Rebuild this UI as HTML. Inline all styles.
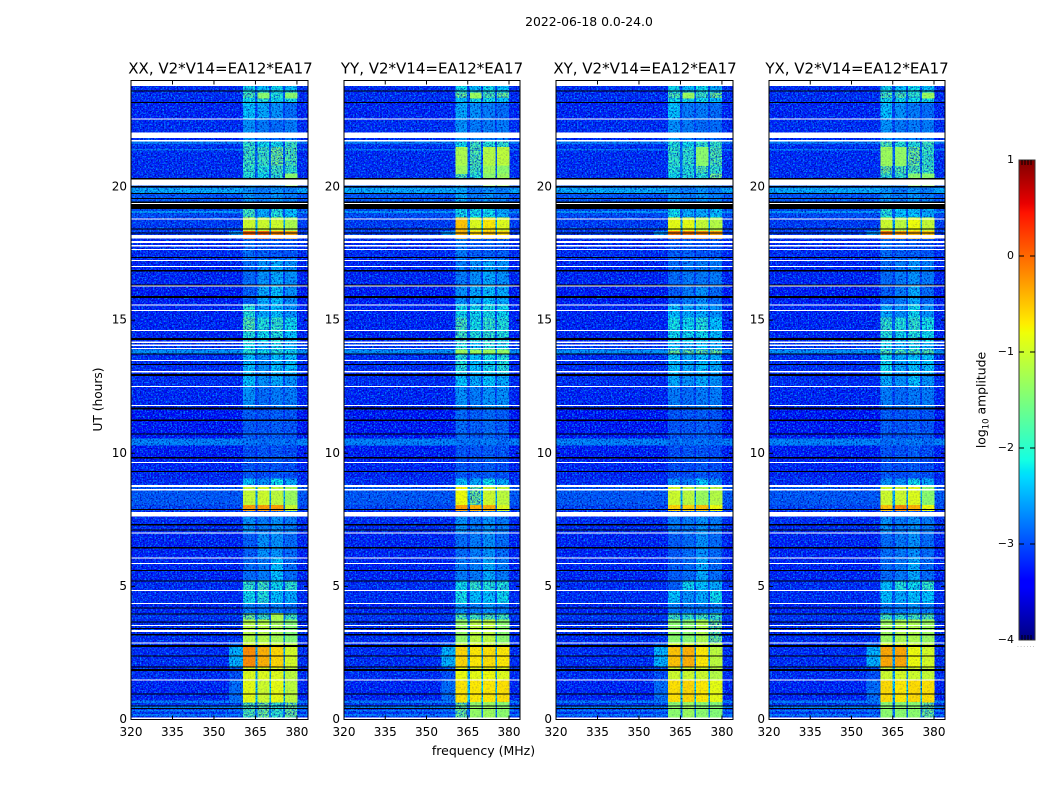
<!DOCTYPE html>
<html lang="en">
<head>
<meta charset="utf-8">
<title>2022-06-18 0.0-24.0</title>
<style>
html,body{margin:0;padding:0;background:#fff;width:1050px;height:800px;overflow:hidden}
svg{display:block}
text{font-family:"DejaVu Sans","Liberation Sans",sans-serif;fill:#000}
</style>
</head>
<body>
<svg id="figure" xmlns="http://www.w3.org/2000/svg" width="1050" height="800" viewBox="0 0 1050 800">
  <defs>
    <filter id="speckleDark" x="0" y="0" width="100%" height="100%" color-interpolation-filters="sRGB">
      <feTurbulence type="fractalNoise" baseFrequency="0.62" numOctaves="2" seed="4"/>
      <feColorMatrix type="matrix" values="0 0 0 0 0  0 0 0 0 0  0 0 0 0 0.6  2.8 0 0 0 -1.3"/>
    </filter>
    <filter id="speckleLight" x="0" y="0" width="100%" height="100%" color-interpolation-filters="sRGB">
      <feTurbulence type="fractalNoise" baseFrequency="0.62" numOctaves="2" seed="11"/>
      <feColorMatrix type="matrix" values="0 0 0 0 0  0 0 0 0 0.6  0 0 0 0 1  0 3 0 0 -1.35"/>
    </filter>
    <linearGradient id="jetGradient" x1="0" y1="1" x2="0" y2="0"></linearGradient>
  </defs>
  <text x="589" y="26" font-size="12.4" text-anchor="middle">2022-06-18 0.0-24.0</text>
  <text x="220.500" y="73.500" font-size="15" text-anchor="middle">XX, V2*V14=EA12*EA17</text>
  <text x="432" y="73.500" font-size="15" text-anchor="middle">YY, V2*V14=EA12*EA17</text>
  <text x="645" y="73.500" font-size="15" text-anchor="middle">XY, V2*V14=EA12*EA17</text>
  <text x="857" y="73.500" font-size="15" text-anchor="middle">YX, V2*V14=EA12*EA17</text>
  <text x="483.500" y="755" font-size="12.5" text-anchor="middle">frequency (MHz)</text>
  <text transform="translate(102,399.500) rotate(-90)" font-size="12.2" text-anchor="middle">UT (hours)</text>
  <text transform="translate(985.500,400) rotate(-90)" font-size="12.4" text-anchor="middle">log<tspan font-size="8.500" dy="3">10</tspan><tspan dy="-3"> amplitude</tspan></text>
  <g id="panels"></g>
  <g id="colorbar"></g>
</svg>
<script>
// Axis ranges and tick labels
const freqRange = [320, 384];
const utRange = [0, 24];
const freqTicks = [320, 335, 350, 365, 380];
const utTicks = [0, 5, 10, 15, 20];
const colorRange = [-4, 1];
const colorTicks = [1, 0, -1, -2, -3, -4];

// Frequency segment edges (MHz) and which level each segment uses
const freqEdges = [320, 355.5, 360.5, 364.8, 365.8, 369.9, 370.6, 374.9, 375.7, 380, 384];
const segmentKinds = ['bg', 'sh', 'c0', 'gap', 'c1', 'gap', 'c2', 'gap', 'c3', 'bg'];

// UT band edges (hours, top to bottom)
const utEdges = [23.8,23.55,23.35,23.15,22.55,21.75,21.5,20.8,20.5,20.06,19.2,18.85,18.35,18.07,17.3,16.3,15.6,15.1,14.55,14.2,13.9,13.75,13,12.5,11.7,10.55,10.3,9.7,9.05,8.75,8.05,7.85,7.6,7,6.05,5.2,4.85,4.35,4,3.75,2.9,2.75,2,1.5,0.65,0];

// log10 amplitude per UT band: background, shoulder (355-360 MHz), gaps between sub-bands
const bgLevels = [-3.25,-3.25,-3.25,-3.3,-3.25,-3.2,-3.25,-3.25,-3.25,-3,-3.05,-3.15,-3.15,-3.25,-3.3,-3.35,-3.3,-3.3,-3.3,-3.2,-2.6,-3.25,-3.25,-3.3,-3.4,-2.7,-3.35,-3.3,-3.25,-2.98,-3.1,-3.25,-3.25,-3.3,-3.3,-3.25,-3.25,-3.3,-3.2,-3.25,-3.25,-3.25,-3.25,-3.3,-3.2];
const shoulderLevels = [-3.25,-3.25,-3.25,-3.3,-3.25,-3.2,-3.25,-3.25,-3.25,-3,-3.05,-3.15,-2.6,-3.25,-3.3,-3.35,-3.3,-3.3,-3.3,-3.2,-2.6,-3.25,-3.25,-3.3,-3.4,-2.7,-3.35,-3.3,-3.25,-2.98,-3.1,-3.25,-3.25,-3.3,-3.3,-3.25,-3.25,-3.3,-3.2,-3.2,-2.85,-2.4,-3.05,-2.85,-3.1];
const gapLevels = [-3.05,-2.9,-3,-3.1,-3.1,-3.05,-2.9,-2.9,-3,-2.85,-3,-2.45,-2.7,-3.15,-3.15,-3.15,-3.05,-2.95,-3,-3.05,-2.6,-3.05,-3.05,-3.1,-3.15,-2.7,-3.2,-3.2,-3.05,-2.45,-2.8,-3.1,-3.1,-3.1,-3.1,-3,-3.05,-3.15,-2.9,-2.6,-2.5,-2.5,-2.5,-2.3,-2.8];

// Narrow background streaks: [upper hour, lower hour, log10 amplitude]
const streakHours = [[21.7,21.62,-2.75],[21.42,21.38,-2.75],[19.97,19.75,-2.45],[19.1,19.02,-2.55],[0.72,0.62,-2.75],[0.48,0.44,-2.7],[0.36,0.3,-2.7],[0.2,0.14,-2.75]];

// log10 amplitude of the four RFI sub-bands per UT band, one table per polarisation
const levelsXX = [[-2.15,-2.3,-2.15,-2.3],[-1.7,-1.4,-2,-1.4],[-2.15,-2,-2.15,-2.15],[-2.3,-2.45,-2.6,-2.85],[-2.6,-2.75,-2.85,-2.75],[-1.9,-2.15,-2.15,-1.8],[-1.8,-1.8,-1.5,-1.7],[-1.9,-2,-1.8,-1.9],[-2,-2.15,-1.9,-1.4],[-2.6,-2.75,-2.6,-2.75],[-1.8,-2.45,-2,-2.3],[-1,-1,-1,-1.2],[0,0,-0.2,-0.3],[-2.85,-2.95,-3,-3],[-2.85,-2.6,-2.45,-2.6],[-2.95,-2.45,-2.3,-2.6],[-2,-2.45,-2.3,-2.6],[-1.7,-2,-1.9,-2.15],[-2,-2.15,-2,-2.3],[-2.15,-2.45,-2.15,-2.45],[-2,-2.15,-2,-2.15],[-2.3,-2.6,-2.3,-2.3],[-2.3,-2.6,-2.45,-2.6],[-2.6,-2.85,-2.75,-2.75],[-2.95,-3,-2.95,-3],[-2.8,-2.85,-2.8,-2.85],[-3.05,-3,-3,-3.05],[-3,-3.05,-3,-3.05],[-2.3,-2.6,-2.15,-2.45],[-1.05,-1,-1.1,-1.3],[-0.3,-0.3,-0.3,-1],[-2.95,-2.95,-2.95,-2.95],[-2.6,-2.75,-2.6,-2.75],[-2.95,-2.6,-2.6,-2.85],[-2.85,-2.75,-2.3,-2.85],[-1.9,-1.8,-2.15,-1.9],[-2.15,-2,-2.3,-2.45],[-2.75,-2.75,-2.75,-2.85],[-1.5,-1.8,-1.2,-1.8],[-1.15,-1.15,-1.25,-1.45],[-0.9,-0.9,-1,-1.1],[-0.2,-0.4,-0.6,-0.95],[-0.9,-0.9,-0.9,-1.1],[-0.85,-1,-0.85,-1.1],[-1.7,-1.5,-1.9,-1.5]];
const levelsYY = [[-2.15,-2.3,-2.15,-2.3],[-1.5,-1.3,-1.7,-1.5],[-2.3,-2.15,-2.15,-2.3],[-2.45,-2.6,-2.75,-2.85],[-2.6,-2.75,-2.75,-2.75],[-2.15,-1.8,-2,-1.9],[-1.2,-1.7,-1.15,-1.1],[-1.3,-1.8,-1.3,-1.4],[-1.7,-2,-1.4,-1.3],[-2.45,-2.75,-2.6,-2.75],[-2.15,-2.15,-2.15,-2.45],[-0.5,-0.9,-0.7,-0.9],[-0.4,-0.6,-0.5,-0.6],[-2.75,-2.95,-2.95,-2.95],[-2.75,-2.6,-2.45,-2.6],[-2.6,-2.45,-2.3,-2.45],[-2.15,-2.15,-2.1,-2.15],[-1.75,-2.1,-1.9,-2],[-1.8,-2,-1.9,-2],[-2,-2.3,-2,-2.15],[-1.3,-1.3,-1.3,-1.35],[-2,-2.3,-2.15,-2],[-2.3,-2.45,-2.3,-2.45],[-2.6,-2.75,-2.6,-2.6],[-2.85,-2.95,-2.85,-2.95],[-2.8,-2.8,-2.75,-2.85],[-3,-3,-2.95,-3],[-3,-3,-2.95,-3.05],[-2.3,-2.45,-2.15,-2.45],[-0.8,-1.5,-1,-1.1],[-0.3,-0.4,-0.4,-0.9],[-2.85,-2.85,-2.85,-2.85],[-2.6,-2.75,-2.6,-2.75],[-2.85,-2.75,-2.6,-2.85],[-2.75,-2.75,-2.45,-2.75],[-2.15,-1.9,-2,-2],[-2.1,-2.3,-2.3,-2.15],[-2.6,-2.75,-2.6,-2.75],[-1.7,-1.8,-1.7,-1.8],[-1.35,-1.1,-1.1,-1.4],[-1,-0.9,-1,-1.1],[-0.6,-0.7,-0.65,-0.7],[-0.8,-0.85,-0.8,-0.9],[-0.68,-0.7,-0.7,-0.65],[-1.5,-1.35,-1.3,-1.4]];
const levelsXY = [[-2.15,-2.3,-2.15,-2.45],[-1.7,-1.3,-1.8,-1.5],[-2.15,-2.15,-2.15,-2.3],[-2.3,-2.75,-2.75,-2.85],[-2.6,-2.75,-2.85,-2.85],[-2,-2.15,-1.9,-1.9],[-1.9,-1.9,-1.4,-1.7],[-2,-2,-1.7,-1.9],[-2.15,-2,-2,-1.5],[-2.6,-2.75,-2.6,-2.75],[-2.15,-2.45,-2.45,-2.3],[-0.85,-0.85,-1.05,-1.15],[-0.1,-0.1,-0.2,-0.3],[-2.95,-2.95,-3,-3],[-2.85,-2.75,-2.75,-2.75],[-2.95,-2.75,-2.6,-2.85],[-2.3,-2.45,-2.45,-2.6],[-2.1,-2.15,-2,-2.3],[-2.15,-2.15,-2.15,-2.3],[-2.3,-2.45,-2.3,-2.45],[-1.55,-1.55,-1.55,-1.55],[-2.3,-2.45,-2.3,-2.45],[-2.45,-2.6,-2.45,-2.6],[-2.75,-2.85,-2.75,-2.75],[-3,-3,-2.95,-3],[-2.85,-2.85,-2.8,-2.85],[-3.05,-3,-3,-3.05],[-3.05,-3.05,-3,-3.05],[-2.6,-2.75,-2.3,-2.6],[-1,-1.1,-1.3,-1.15],[-0.6,-0.6,-0.5,-0.8],[-2.95,-2.95,-2.95,-2.95],[-2.75,-2.75,-2.6,-2.75],[-2.95,-2.85,-2.6,-2.85],[-2.95,-2.85,-2.45,-2.85],[-2.95,-2.15,-2.3,-2.45],[-2.3,-2.6,-2.45,-2.15],[-2.75,-2.75,-2.75,-2.75],[-1.8,-1.9,-1.8,-1.85],[-1.4,-1.4,-1.2,-1.5],[-0.95,-0.95,-1,-1.2],[-0.5,-0.4,-0.7,-1.1],[-1,-1,-1,-1.15],[-0.65,-0.6,-0.7,-0.85],[-1.4,-1.3,-1.4,-1.45]];
const levelsYX = [[-2.15,-2.3,-2.15,-2.3],[-1.7,-1.7,-1.9,-1.3],[-2.15,-2.15,-2.15,-2.15],[-2.3,-2.6,-2.75,-2.85],[-2.6,-2.75,-2.75,-2.75],[-1.7,-2,-2,-1.8],[-1.3,-1.35,-1.5,-1.85],[-1.5,-1.7,-1.7,-1.8],[-1.9,-1.9,-1.4,-1.4],[-2.6,-2.75,-2.6,-2.75],[-2,-2.3,-2.3,-2.45],[-1,-1.1,-0.8,-1.05],[-0.1,-0.3,-0.4,-0.5],[-2.85,-2.95,-2.95,-3],[-2.85,-2.75,-2.6,-2.75],[-2.95,-2.75,-2.45,-2.85],[-2.45,-2.6,-2.15,-2.6],[-1.9,-2,-1.9,-2.1],[-2,-2.15,-2,-2.15],[-2.15,-2.45,-2.15,-2.45],[-1.7,-1.7,-1.7,-1.7],[-2.15,-2.45,-2.3,-2.3],[-2.45,-2.6,-2.3,-2.6],[-2.75,-2.85,-2.75,-2.75],[-2.95,-3,-2.95,-3],[-2.85,-2.85,-2.75,-2.85],[-3,-3,-2.95,-3.05],[-3,-3.05,-3,-3.05],[-2.6,-2.6,-2.15,-2.45],[-1,-1,-0.9,-1.4],[-0.5,-0.2,-0.4,-0.8],[-2.95,-2.95,-2.95,-2.95],[-2.6,-2.75,-2.6,-2.75],[-2.85,-2.75,-2.6,-2.85],[-2.85,-2.75,-2.45,-2.85],[-2.3,-2,-2.15,-1.9],[-2.3,-2.45,-2.3,-2.3],[-2.75,-2.75,-2.6,-2.75],[-1.8,-1.9,-1.8,-1.7],[-1.3,-1.2,-1.2,-1.3],[-0.9,-0.9,-1,-1.1],[-0.35,-0.35,-0.8,-0.95],[-1,-0.95,-1,-1.05],[-0.62,-0.7,-0.62,-0.65],[-1.4,-1.4,-1.4,-1.5]];

// Flagged time ranges [upper, lower] hours: no data (white) and zero amplitude (black)
const blankRanges = [[24,23.8],[22.57,22.53],[22.04,21.84],[21.77,21.71],[20.29,20.06],[19.4,19.36],[18.82,18.79],[18.2,18.07],[17.97,17.9],[17.82,17.77],[17.68,17.63],[17.26,17.22],[17.03,17],[16.31,16.27],[15.59,15.56],[15.38,15.34],[14.63,14.59],[14.19,14.15],[14.08,14.03],[13.96,13.93],[13.5,13.46],[13.09,13.04],[12.53,12.49],[11.81,11.77],[9.68,9.65],[8.81,8.74],[8.66,8.61],[7.8,7.62],[7.02,6.98],[6.09,6.05],[5.88,5.84],[4.86,4.83],[4.38,4.34],[3.55,3.51],[3.36,3.28],[2.9,2.86],[1.51,1.47],[0.08,0.02]];
const zeroRanges = [[23.63,23.59],[23.19,23.15],[20.33,20.29],[20.04,19.98],[19.77,19.74],[19.59,19.55],[19.46,19.4],[19.36,19.18],[18.45,18.41],[18.3,18.26],[17.37,17.33],[16.88,16.83],[16.33,16.31],[15.91,15.84],[14.32,14.25],[13.75,13.72],[13.35,13.31],[12.98,12.91],[11.71,11.65],[11.26,11.22],[10.75,10.71],[9.85,9.81],[9.34,9.3],[7.91,7.87],[7.34,7.29],[7.14,7.11],[6.47,6.43],[5.61,5.58],[5.23,5.19],[4.21,4.18],[3.99,3.96],[3.69,3.65],[3.44,3.4],[3.21,3.16],[2.79,2.73],[2.4,2.36],[2,1.96],[1.89,1.83],[0.98,0.96],[0.52,0.5],[0.43,0.39]];

const panelIds = ['xx', 'yy', 'xy', 'yx'];
const panelLevels = [levelsXX, levelsYY, levelsXY, levelsYX];

const SVG_NS = 'http://www.w3.org/2000/svg';
const panelBoxes = [[131, 308], [344, 520], [556, 733], [769, 945]];
const plotTop = 80.5, plotBottom = 719.5;
const smoothAbove = -1.45;

function yScale(h) {
  return plotBottom - (h - utRange[0]) / (utRange[1] - utRange[0]) * (plotBottom - plotTop);
}
function makeX(left, right) {
  return function (f) {
    return left + (f - freqRange[0]) / (freqRange[1] - freqRange[0]) * (right - left);
  };
}
function jet(t) {
  t = Math.max(0, Math.min(1, t));
  const ramp = function (pts) {
    for (let i = 1; i < pts.length; i++) {
      if (t <= pts[i][0]) {
        const a = pts[i - 1], b = pts[i];
        return a[1] + (b[1] - a[1]) * (t - a[0]) / (b[0] - a[0]);
      }
    }
    return pts[pts.length - 1][1];
  };
  const r = ramp([[0, 0], [0.35, 0], [0.66, 1], [0.89, 1], [1, 0.5]]);
  const g = ramp([[0, 0], [0.125, 0], [0.375, 1], [0.64, 1], [0.91, 0], [1, 0]]);
  const b = ramp([[0, 0.5], [0.11, 1], [0.34, 1], [0.65, 0], [1, 0]]);
  return 'rgb(' + Math.round(r * 255) + ',' + Math.round(g * 255) + ',' + Math.round(b * 255) + ')';
}
function colorOf(v) {
  return jet((v - colorRange[0]) / (colorRange[1] - colorRange[0]));
}
function node(parent, tag, attrs) {
  const el = document.createElementNS(SVG_NS, tag);
  for (const k in attrs) el.setAttribute(k, attrs[k]);
  parent.appendChild(el);
  return el;
}

const panelsRoot = document.getElementById('panels');
panelIds.forEach(function (id, p) {
  const left = panelBoxes[p][0], right = panelBoxes[p][1];
  const x = makeX(left, right);
  const table = panelLevels[p];
  const g = node(panelsRoot, 'g', {});
  
  
  const cells = node(g, 'g', { 'shape-rendering': 'crispEdges' });
  
  
  const strong = document.createElementNS(SVG_NS, 'g');
  strong.setAttribute('shape-rendering', 'crispEdges');
  
  

  for (let r = 0; r < utEdges.length - 1; r++) {
    const y0 = yScale(utEdges[r]), y1 = yScale(utEdges[r + 1]);
    for (let s = 0; s < segmentKinds.length; s++) {
      const kind = segmentKinds[s];
      let value;
      if (kind === 'bg') value = bgLevels[r];
      else if (kind === 'sh') value = shoulderLevels[r];
      else if (kind === 'gap') value = gapLevels[r];
      else value = table[r][Number(kind.charAt(1))];
      const x0 = x(freqEdges[s]), x1 = x(freqEdges[s + 1]);
      const cell = node(value >= smoothAbove ? strong : cells, 'rect', {
        x: x0.toFixed(2), y: y0.toFixed(2),
        width: (x1 - x0 + 0.5).toFixed(2), height: (y1 - y0 + 0.5).toFixed(2),
        fill: colorOf(value)
      });
      
      
    }
  }

  streakHours.forEach(function (st) {
    const yy = yScale(st[0]);
    const h = Math.max(1, yScale(st[1]) - yy);
    const a = node(cells, 'rect', { x: x(320), y: yy.toFixed(2), width: (x(360.5) - x(320)).toFixed(2), height: h.toFixed(2), fill: colorOf(st[2]) });
    
    
    const b = node(cells, 'rect', { x: x(380), y: yy.toFixed(2), width: (x(384) - x(380)).toFixed(2), height: h.toFixed(2), fill: colorOf(st[2]) });
    
    
  });

  const dark = node(g, 'rect', { x: left, y: plotTop, width: right - left, height: plotBottom - plotTop, filter: 'url(#speckleDark)' });
  
  
  const light = node(g, 'rect', { x: left, y: plotTop, width: right - left, height: plotBottom - plotTop, filter: 'url(#speckleLight)' });
  
  
  g.appendChild(strong);
  const strongTexture = node(g, 'rect', { x: left, y: plotTop, width: right - left, height: plotBottom - plotTop, filter: 'url(#speckleDark)', opacity: 0.22 });
  
  

  const flags = node(g, 'g', { 'shape-rendering': 'crispEdges' });
  
  
  zeroRanges.forEach(function (rg) {
    const yy = yScale(rg[0]);
    const h = Math.max(1, yScale(rg[1]) - yy);
    const line = node(flags, 'rect', { x: left, y: yy.toFixed(2), width: right - left, height: h.toFixed(2), fill: '#000' });
    
    
  });
  blankRanges.forEach(function (rg) {
    const yy = yScale(rg[0]);
    const h = Math.max(1, yScale(rg[1]) - yy);
    const line = node(flags, 'rect', { x: left, y: yy.toFixed(2), width: right - left, height: h.toFixed(2), fill: '#fff' });
    
    
  });

  const frame = node(g, 'rect', { x: left, y: plotTop, width: right - left, height: plotBottom - plotTop, fill: 'none', stroke: '#000', 'stroke-width': 1 });
  
  

  freqTicks.forEach(function (f) {
    const tx = x(f);
    const bottomTick = node(g, 'line', { x1: tx, x2: tx, y1: plotBottom, y2: plotBottom - 4, stroke: '#000', 'stroke-width': 1 });
    
    
    const topTick = node(g, 'line', { x1: tx, x2: tx, y1: plotTop, y2: plotTop + 4, stroke: '#000', 'stroke-width': 1 });
    
    
    const label = node(g, 'text', { x: tx, y: 736, 'font-size': 12, 'text-anchor': 'middle' });
    label.textContent = String(f);
    
    
  });
  utTicks.forEach(function (h) {
    const ty = yScale(h);
    const leftTick = node(g, 'line', { x1: left, x2: left + 4, y1: ty, y2: ty, stroke: '#000', 'stroke-width': 1 });
    
    
    const rightTick = node(g, 'line', { x1: right, x2: right - 4, y1: ty, y2: ty, stroke: '#000', 'stroke-width': 1 });
    
    
    const label = node(g, 'text', { x: left - 4, y: ty + 3.5, 'font-size': 12, 'text-anchor': 'end' });
    label.textContent = String(h);
    
    
  });
});

// Colorbar
const cbLeft = 1019, cbRight = 1035, cbTop = 160, cbBottom = 640;
const grad = document.getElementById('jetGradient');
[0, 0.11, 0.125, 0.34, 0.35, 0.375, 0.64, 0.65, 0.66, 0.89, 0.91, 1].forEach(function (t) {
  node(grad, 'stop', { offset: t, 'stop-color': jet(t) });
});
function cbScale(v) {
  return cbBottom - (v - colorRange[0]) / (colorRange[1] - colorRange[0]) * (cbBottom - cbTop);
}
const cbRoot = document.getElementById('colorbar');
const cbBar = node(cbRoot, 'rect', { x: cbLeft, y: cbTop, width: cbRight - cbLeft, height: cbBottom - cbTop, fill: 'url(#jetGradient)', stroke: '#333', 'stroke-width': 1 });


colorTicks.forEach(function (v) {
  const ty = cbScale(v);
  if (v !== 1 && v !== -4) {
    const t1 = node(cbRoot, 'line', { x1: cbLeft, x2: cbLeft + 5, y1: ty, y2: ty, stroke: '#000', 'stroke-width': 1 });
    
    
    const t2 = node(cbRoot, 'line', { x1: cbRight - 5, x2: cbRight, y1: ty, y2: ty, stroke: '#000', 'stroke-width': 1 });
    
    
  }
  const label = node(cbRoot, 'text', { x: cbLeft - 5, y: ty + 3, 'font-size': 11, 'text-anchor': 'end' });
  label.textContent = String(v).replace('-', '\u2212');
  
  
});
[3, 6, 9, 12].forEach(function (dx) {
  const top = node(cbRoot, 'line', { x1: cbLeft + dx, x2: cbLeft + dx, y1: cbTop, y2: cbTop + 5, stroke: '#000', 'stroke-width': 1 });
  
  
  const bot = node(cbRoot, 'line', { x1: cbLeft + dx, x2: cbLeft + dx, y1: cbBottom - 5, y2: cbBottom, stroke: '#000', 'stroke-width': 1 });
  
  
});
const dots = node(cbRoot, 'text', { x: cbLeft - 2, y: 647, 'font-size': 6, 'letter-spacing': '1.2' });
dots.textContent = '......';


dots.style.fill = '#888';
</script>
</body>
</html>
